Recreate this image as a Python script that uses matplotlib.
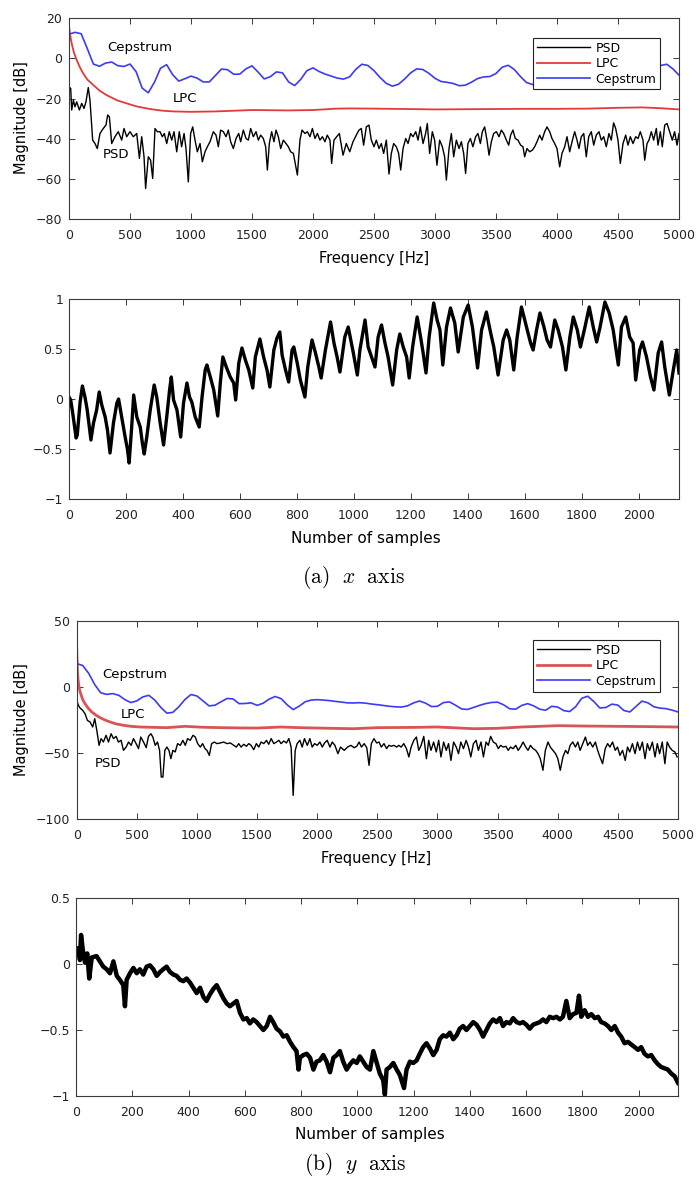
import matplotlib
matplotlib.use("Agg")
import matplotlib.pyplot as plt
from matplotlib.ticker import FuncFormatter

plt.rcParams['mathtext.fontset'] = 'cm'

# ---------------- (a) x axis : spectra ----------------
psd_a_f = [0, 14, 22, 36, 49, 63, 85, 104, 123, 139, 158, 172, 194, 213, 232, 254, 281, 303, 317, 331,
           350, 377, 404, 432, 451, 473, 500, 527, 555, 577, 596, 615, 628, 650, 669, 686, 705, 724, 746, 765,
           781, 801, 822, 842, 861, 883, 904, 923, 943, 959, 978, 997, 1014, 1033, 1052, 1074, 1093, 1115, 1134, 1156,
           1183, 1205, 1224, 1243, 1265, 1287, 1306, 1325, 1347, 1369, 1391, 1407, 1429, 1451, 1470, 1489, 1511, 1533, 1552, 1571,
           1593, 1612, 1626, 1642, 1661, 1680, 1697, 1716, 1735, 1757, 1779, 1798, 1817, 1839, 1872, 1893, 1910, 1934, 1954, 1975,
           1995, 2016, 2036, 2057, 2077, 2098, 2117, 2139, 2153, 2172, 2194, 2216, 2246, 2273, 2301, 2328, 2355, 2377, 2396, 2415,
           2437, 2459, 2478, 2500, 2519, 2541, 2560, 2579, 2601, 2623, 2642, 2661, 2683, 2702, 2719, 2738, 2760, 2779, 2800, 2820,
           2842, 2861, 2880, 2902, 2923, 2937, 2956, 2978, 2997, 3016, 3038, 3060, 3079, 3093, 3115, 3134, 3153, 3175, 3197, 3216,
           3235, 3251, 3270, 3290, 3311, 3333, 3352, 3372, 3388, 3407, 3426, 3443, 3462, 3481, 3503, 3525, 3544, 3563, 3585, 3604,
           3620, 3639, 3658, 3680, 3702, 3721, 3735, 3754, 3776, 3798, 3817, 3836, 3858, 3877, 3899, 3918, 3940, 3959, 3981, 4000,
           4022, 4041, 4063, 4082, 4104, 4123, 4145, 4164, 4180, 4199, 4219, 4240, 4260, 4281, 4301, 4322, 4344, 4363, 4383, 4404,
           4426, 4445, 4464, 4481, 4500, 4519, 4541, 4563, 4582, 4601, 4623, 4645, 4664, 4683, 4705, 4719, 4738, 4754, 4773, 4792,
           4814, 4828, 4847, 4863, 4883, 4902, 4923, 4945, 4964, 4984, 5000]
psd_a_db = [-14.1, -15.0, -25.7, -20.8, -24.1, -21.6, -25.7, -22.4, -24.9, -21.6, -14.5, -20.8, -40.7, -42.4, -44.9, -37.4, -34.9, -33.2, -28.2, -29.1,
            -42.4, -39.0, -36.5, -40.7, -34.9, -39.0, -36.5, -39.0, -37.4, -49.8, -39.0, -49.0, -64.8, -49.0, -50.7, -59.8, -34.9, -36.5, -36.5, -39.0,
            -37.4, -42.4, -36.5, -40.7, -36.5, -46.5, -36.5, -44.0, -37.4, -44.9, -61.5, -37.4, -34.1, -40.7, -46.5, -42.4, -51.5, -46.5, -44.0, -41.5,
            -36.5, -38.2, -44.0, -35.7, -36.5, -39.0, -35.7, -41.5, -44.9, -39.9, -37.4, -41.5, -35.7, -39.9, -40.7, -34.9, -39.0, -36.5, -40.7, -38.2,
            -39.9, -44.0, -55.6, -42.4, -36.5, -41.5, -35.7, -39.0, -44.9, -40.7, -42.4, -44.0, -46.5, -47.3, -58.1, -40.7, -35.7, -37.4, -36.5, -39.0,
            -34.9, -39.9, -37.4, -40.7, -39.0, -41.5, -38.2, -40.7, -52.3, -40.7, -39.0, -37.4, -48.2, -42.4, -46.5, -41.5, -38.2, -35.7, -34.9, -43.2,
            -34.1, -33.2, -40.7, -44.0, -40.7, -44.9, -42.4, -47.3, -40.7, -57.6, -47.3, -42.4, -44.0, -47.3, -55.6, -44.9, -39.9, -42.4, -37.4, -39.0,
            -36.5, -40.7, -34.1, -42.4, -37.4, -32.4, -47.3, -36.5, -40.7, -53.2, -40.7, -44.0, -49.0, -60.6, -44.9, -37.4, -49.0, -40.7, -44.9, -41.5,
            -47.3, -57.3, -42.4, -39.9, -44.0, -39.0, -37.4, -42.4, -36.5, -34.1, -40.7, -48.2, -41.5, -37.4, -36.5, -39.0, -35.7, -37.4, -40.7, -43.2,
            -38.2, -35.7, -39.9, -40.7, -43.2, -44.0, -49.0, -44.9, -46.5, -45.7, -44.0, -41.5, -38.2, -40.7, -36.5, -34.1, -36.5, -39.9, -42.4, -44.9,
            -54.0, -47.3, -44.0, -39.0, -46.5, -41.5, -36.5, -40.7, -44.9, -39.0, -37.4, -49.0, -39.0, -36.5, -43.2, -38.2, -36.5, -40.7, -39.0, -44.0,
            -37.4, -40.7, -32.1, -34.9, -40.7, -52.3, -42.4, -38.2, -43.2, -39.0, -42.4, -39.0, -39.9, -36.5, -40.7, -50.7, -42.4, -40.7, -36.5, -40.7,
            -34.9, -43.2, -36.5, -44.0, -33.2, -32.4, -36.5, -40.7, -36.5, -43.2, -37.4]

lpc_a_f = [0, 10, 22, 40, 63, 90, 117, 150, 200, 250, 309, 400, 473, 560, 664, 760, 855, 1000, 1200, 1500,
           1800, 2000, 2200, 2300, 2500, 2750, 3000, 3250, 3500, 3750, 4000, 4250, 4500, 4700, 4850, 5000]
lpc_a_db = [16.1, 11.5, 7.5, 3.0, -0.8, -4.5, -7.5, -10.5, -13.3, -16.0, -18.3, -21.0, -22.4, -24.0, -25.2, -26.0, -26.4, -26.6, -26.4, -25.7,
            -25.9, -25.7, -25.0, -24.9, -25.0, -25.2, -25.4, -25.3, -25.2, -25.1, -25.1, -25.0, -24.6, -24.4, -24.8, -25.4]

cep_a_f = list(range(0, 5001, 50))
cep_a_db = [12.1, 13.0, 12.3, 4.9, -2.8, -3.9, -2.3, -1.8, -3.6, -4.0, -2.8, -6.6, -14.8, -17.1, -11.9, -4.9, -3.1, -8.1, -11.3, -10.1,
            -8.8, -9.8, -11.7, -11.7, -8.5, -5.3, -5.6, -7.9, -7.8, -5.2, -3.7, -6.8, -10.2, -9.1, -6.7, -7.2, -11.7, -13.5, -10.4, -6.1,
            -4.7, -6.5, -7.8, -8.8, -9.8, -10.3, -9.2, -5.5, -2.9, -3.5, -6.1, -9.5, -12.4, -13.8, -12.9, -10.3, -7.2, -5.2, -5.5, -7.4,
            -9.9, -11.5, -11.9, -12.5, -13.6, -13.3, -11.8, -10.0, -9.2, -9.0, -7.5, -4.4, -3.4, -5.5, -9.0, -12.0, -13.0, -12.5, -10.5, -8.5,
            -8.0, -9.0, -11.0, -12.2, -11.5, -9.5, -7.8, -7.5, -8.8, -10.8, -11.5, -10.8, -9.5, -8.8, -9.0, -8.5, -6.0, -3.5, -2.9, -5.2,
            -8.3]

# ---------------- (a) x axis : time signal ----------------
sig_a_n = [0, 6, 13, 21, 25, 29, 39, 47, 56, 64, 70, 77, 86, 97, 106, 115, 127, 135, 144, 156,
           168, 174, 185, 197, 205, 211, 220, 227, 238, 250, 258, 264, 273, 285, 299, 308, 320, 332, 343, 353,
           359, 367, 379, 392, 402, 414, 423, 431, 443, 457, 467, 478, 484, 496, 508, 522, 531, 540, 552, 566,
           578, 585, 596, 607, 619, 631, 645, 654, 670, 683, 695, 705, 719, 730, 740, 748, 760, 771, 783, 789,
           801, 812, 828, 838, 853, 865, 877, 885, 900, 918, 930, 941, 951, 968, 980, 998, 1012, 1021, 1039, 1050,
           1062, 1074, 1085, 1097, 1109, 1120, 1136, 1150, 1161, 1173, 1185, 1194, 1206, 1222, 1234, 1243, 1253, 1264, 1280, 1292,
           1302, 1312, 1325, 1339, 1354, 1366, 1384, 1401, 1416, 1434, 1448, 1465, 1480, 1491, 1506, 1524, 1536, 1547, 1561, 1573,
           1588, 1606, 1620, 1629, 1641, 1653, 1667, 1678, 1690, 1705, 1717, 1732, 1744, 1758, 1770, 1784, 1795, 1811, 1826, 1840,
           1852, 1864, 1881, 1896, 1910, 1928, 1939, 1954, 1968, 1980, 1989, 2003, 2013, 2027, 2041, 2053, 2068, 2080, 2091, 2107,
           2121, 2133, 2141]
sig_a_v = [0.02, -0.01, -0.14, -0.31, -0.39, -0.36, -0.03, 0.13, 0.02, -0.11, -0.25, -0.41, -0.24, -0.11, 0.07, -0.06, -0.18, -0.31, -0.54, -0.24,
           -0.04, 0.00, -0.18, -0.38, -0.50, -0.64, -0.28, 0.04, -0.18, -0.28, -0.45, -0.55, -0.38, -0.11, 0.14, 0.02, -0.24, -0.46, -0.18, 0.09,
           0.22, -0.01, -0.11, -0.38, -0.04, 0.16, 0.02, -0.03, -0.18, -0.28, 0.02, 0.29, 0.34, 0.22, 0.09, -0.17, 0.16, 0.42, 0.32, 0.22,
           0.16, -0.01, 0.36, 0.51, 0.39, 0.29, 0.11, 0.42, 0.60, 0.42, 0.29, 0.12, 0.49, 0.61, 0.67, 0.44, 0.29, 0.17, 0.49, 0.52,
           0.36, 0.19, 0.02, 0.32, 0.59, 0.46, 0.32, 0.21, 0.49, 0.77, 0.56, 0.42, 0.27, 0.62, 0.72, 0.46, 0.24, 0.49, 0.79, 0.52,
           0.42, 0.32, 0.62, 0.74, 0.56, 0.42, 0.14, 0.49, 0.65, 0.52, 0.42, 0.21, 0.52, 0.82, 0.62, 0.46, 0.26, 0.62, 0.96, 0.79,
           0.69, 0.34, 0.72, 0.91, 0.76, 0.47, 0.82, 0.94, 0.72, 0.31, 0.69, 0.87, 0.66, 0.52, 0.24, 0.59, 0.69, 0.59, 0.29, 0.62,
           0.92, 0.72, 0.56, 0.49, 0.69, 0.86, 0.72, 0.59, 0.52, 0.79, 0.69, 0.52, 0.29, 0.62, 0.82, 0.69, 0.52, 0.72, 0.92, 0.72,
           0.57, 0.72, 0.97, 0.86, 0.69, 0.34, 0.72, 0.82, 0.62, 0.56, 0.19, 0.49, 0.57, 0.42, 0.22, 0.09, 0.46, 0.57, 0.32, 0.04,
           0.29, 0.49, 0.26]

# ---------------- (b) y axis : spectra ----------------
psd_b_f = [0, 14, 28, 50, 69, 89, 111, 133, 150, 167, 186, 203, 222, 244, 264, 286, 306, 328, 347, 369,
           389, 411, 431, 453, 472, 494, 514, 533, 556, 578, 597, 617, 633, 653, 672, 689, 703, 717, 733, 750,
           767, 783, 800, 819, 839, 861, 883, 903, 922, 944, 967, 986, 1006, 1028, 1047, 1067, 1083, 1103, 1122, 1144,
           1167, 1194, 1222, 1250, 1278, 1306, 1328, 1347, 1367, 1389, 1411, 1431, 1450, 1472, 1494, 1514, 1533, 1556, 1578, 1597,
           1617, 1639, 1661, 1681, 1700, 1722, 1744, 1764, 1783, 1800, 1817, 1833, 1856, 1875, 1894, 1917, 1939, 1958, 1978, 2000,
           2022, 2042, 2061, 2083, 2106, 2125, 2147, 2172, 2194, 2225, 2252, 2280, 2307, 2329, 2348, 2368, 2390, 2412, 2431, 2450,
           2472, 2494, 2514, 2533, 2555, 2577, 2596, 2616, 2638, 2660, 2679, 2698, 2720, 2742, 2762, 2781, 2803, 2825, 2844, 2864,
           2886, 2908, 2927, 2946, 2968, 2990, 3010, 3029, 3051, 3073, 3092, 3112, 3134, 3156, 3175, 3194, 3216, 3238, 3258, 3277,
           3299, 3321, 3340, 3362, 3382, 3404, 3423, 3442, 3464, 3486, 3506, 3525, 3547, 3569, 3588, 3607, 3629, 3651, 3671, 3690,
           3712, 3734, 3753, 3773, 3795, 3817, 3836, 3855, 3877, 3897, 3919, 3938, 3960, 3982, 4001, 4021, 4043, 4065, 4084, 4103,
           4125, 4147, 4167, 4186, 4208, 4230, 4249, 4269, 4291, 4313, 4332, 4351, 4373, 4395, 4415, 4434, 4456, 4478, 4497, 4517,
           4539, 4561, 4580, 4599, 4621, 4643, 4663, 4682, 4704, 4726, 4745, 4764, 4787, 4809, 4828, 4847, 4869, 4891, 4910, 4930,
           4952, 4974, 4993]
psd_b_db = [-10.1, -13.9, -15.9, -17.7, -20.2, -25.3, -26.5, -30.3, -24.0, -32.8, -44.2, -39.1, -41.7, -36.6, -41.7, -35.4, -39.1, -37.4, -41.7, -40.4,
            -48.0, -45.5, -41.7, -44.2, -39.1, -42.9, -46.7, -37.9, -41.7, -46.0, -37.4, -35.4, -37.9, -44.2, -41.7, -48.0, -68.2, -68.2, -48.0, -45.5,
            -48.0, -54.3, -48.0, -49.2, -42.9, -44.2, -40.4, -44.2, -39.1, -40.4, -36.6, -37.9, -42.9, -45.5, -42.9, -46.7, -48.0, -51.8, -42.9, -41.7,
            -42.9, -42.4, -41.7, -42.9, -42.4, -44.2, -45.5, -42.9, -45.5, -43.4, -44.9, -42.9, -44.2, -47.5, -42.9, -45.5, -41.7, -42.9, -40.4, -43.4,
            -39.1, -42.9, -41.7, -40.4, -42.9, -40.9, -42.4, -39.1, -45.5, -82.1, -48.0, -42.9, -40.4, -45.5, -39.1, -44.2, -39.1, -45.5, -42.9, -44.2,
            -41.7, -45.5, -42.4, -40.4, -45.5, -41.7, -44.2, -50.5, -45.5, -48.0, -45.5, -44.2, -46.0, -44.9, -41.7, -45.5, -42.9, -46.0, -59.3, -42.9,
            -39.1, -42.4, -41.7, -45.5, -42.9, -46.7, -44.2, -44.9, -44.2, -45.5, -44.2, -45.5, -42.9, -46.7, -53.0, -45.5, -40.4, -37.9, -48.0, -44.2,
            -37.4, -54.3, -40.4, -48.0, -41.7, -49.2, -40.4, -53.0, -41.7, -48.0, -42.9, -55.6, -41.7, -45.5, -50.5, -41.7, -46.7, -40.4, -45.5, -53.0,
            -42.9, -40.4, -48.0, -41.7, -53.0, -41.7, -44.2, -37.4, -41.7, -42.9, -46.7, -44.2, -45.5, -44.9, -48.0, -45.5, -46.7, -44.2, -48.0, -45.5,
            -41.7, -45.5, -48.0, -44.2, -46.7, -48.0, -50.5, -54.3, -63.1, -48.0, -41.7, -45.5, -48.0, -50.5, -54.3, -63.1, -53.0, -48.0, -50.5, -44.2,
            -41.7, -45.5, -41.7, -48.0, -42.9, -37.9, -44.2, -41.7, -45.5, -41.7, -48.0, -53.0, -58.1, -46.7, -42.9, -45.5, -41.7, -48.0, -45.5, -51.8,
            -48.0, -55.6, -45.5, -49.2, -42.9, -50.5, -41.7, -48.0, -41.7, -54.3, -42.9, -48.0, -41.7, -53.0, -42.9, -50.5, -41.7, -58.1, -41.7, -45.5,
            -48.0, -49.2, -53.0]

lpc_b_f = [0, 3, 6, 10, 17, 25, 33, 50, 69, 95, 125, 160, 194, 235, 278, 330, 389, 450, 528, 650,
           750, 900, 1050, 1200, 1350, 1500, 1700, 1850, 2000, 2300, 2500, 2800, 3000, 3300, 3500, 3700, 4000, 4250, 4500, 4750,
           5000]
lpc_b_db = [29.0, 20.0, 12.6, 7.0, 1.3, -2.5, -5.0, -9.5, -12.6, -16.0, -18.9, -21.3, -23.2, -25.0, -26.5, -28.0, -29.0, -29.8, -30.3, -30.6,
            -30.8, -29.8, -30.5, -30.8, -31.0, -31.1, -30.3, -30.8, -31.1, -31.6, -30.8, -30.6, -30.3, -31.6, -31.3, -30.3, -29.3, -29.6, -29.8, -30.0,
            -30.3]

cep_b_f = list(range(0, 5001, 50))
cep_b_db = [17.7, 16.3, 10.3, 1.8, -4.4, -5.6, -5.0, -6.3, -9.5, -11.8, -10.5, -7.5, -6.3, -10.0, -15.5, -19.8, -19.2, -14.9, -9.5, -5.7,
            -6.8, -10.5, -14.3, -13.8, -11.2, -8.7, -9.0, -12.6, -12.5, -12.0, -13.9, -12.3, -9.2, -7.2, -8.8, -13.5, -17.1, -14.5, -11.2, -9.9,
            -9.6, -9.9, -10.3, -10.9, -11.4, -12.0, -12.1, -11.9, -12.2, -12.9, -13.4, -14.0, -14.6, -15.0, -15.2, -14.3, -12.1, -10.6, -12.2, -14.8,
            -14.6, -11.8, -11.3, -13.8, -16.6, -17.0, -15.5, -13.9, -12.6, -11.7, -11.5, -13.5, -16.5, -16.8, -14.0, -12.6, -14.3, -16.8, -17.6, -14.6,
            -15.2, -17.9, -18.6, -14.8, -8.5, -7.0, -11.0, -15.9, -15.5, -13.0, -13.7, -17.8, -18.9, -14.8, -10.7, -12.0, -15.0, -16.0, -16.4, -17.5,
            -18.9]

# ---------------- (b) y axis : time signal ----------------
sig_b_n = [0, 8, 14, 18, 24, 32, 40, 47, 56, 73, 85, 97, 109, 121, 133, 145, 156, 168, 174, 180,
           192, 204, 216, 227, 239, 251, 263, 275, 287, 299, 310, 322, 334, 346, 358, 370, 382, 393, 405, 417,
           429, 441, 453, 464, 476, 488, 500, 512, 524, 536, 547, 559, 571, 583, 595, 607, 618, 630, 642, 654,
           666, 678, 690, 701, 713, 725, 737, 749, 761, 773, 784, 791, 796, 808, 820, 832, 844, 855, 867, 879,
           891, 903, 915, 927, 938, 950, 962, 974, 986, 998, 1009, 1021, 1033, 1045, 1057, 1069, 1080, 1092, 1098, 1104,
           1116, 1128, 1140, 1151, 1166, 1175, 1187, 1199, 1211, 1222, 1234, 1246, 1258, 1270, 1282, 1293, 1305, 1317, 1329, 1341,
           1353, 1364, 1376, 1388, 1400, 1412, 1424, 1436, 1447, 1459, 1471, 1483, 1495, 1507, 1518, 1530, 1542, 1554, 1566, 1578,
           1589, 1601, 1613, 1625, 1637, 1649, 1660, 1672, 1684, 1696, 1708, 1720, 1731, 1743, 1755, 1767, 1779, 1788, 1796, 1808,
           1820, 1832, 1844, 1856, 1867, 1879, 1891, 1903, 1915, 1927, 1938, 1950, 1962, 1974, 1986, 1998, 2009, 2021, 2033, 2045,
           2057, 2069, 2080, 2092, 2104, 2116, 2128, 2140]
sig_b_v = [0.08, 0.12, 0.03, 0.22, 0.11, 0.01, 0.08, -0.11, 0.05, 0.06, 0.02, -0.02, -0.04, -0.07, 0.02, -0.09, -0.12, -0.16, -0.32, -0.12,
           -0.07, -0.03, -0.07, -0.04, -0.08, -0.02, -0.01, -0.04, -0.09, -0.06, -0.04, -0.02, -0.06, -0.08, -0.09, -0.12, -0.13, -0.11, -0.14, -0.18,
           -0.22, -0.18, -0.25, -0.28, -0.23, -0.19, -0.16, -0.21, -0.26, -0.30, -0.32, -0.30, -0.28, -0.37, -0.42, -0.41, -0.45, -0.42, -0.44, -0.47,
           -0.50, -0.47, -0.40, -0.44, -0.49, -0.51, -0.55, -0.54, -0.59, -0.63, -0.66, -0.80, -0.71, -0.69, -0.68, -0.71, -0.80, -0.74, -0.73, -0.69,
           -0.74, -0.82, -0.71, -0.69, -0.66, -0.74, -0.80, -0.76, -0.73, -0.75, -0.70, -0.74, -0.78, -0.80, -0.66, -0.75, -0.83, -0.88, -0.99, -0.80,
           -0.78, -0.75, -0.80, -0.84, -0.94, -0.80, -0.74, -0.75, -0.73, -0.68, -0.63, -0.60, -0.64, -0.69, -0.65, -0.57, -0.54, -0.55, -0.52, -0.57,
           -0.54, -0.49, -0.47, -0.50, -0.47, -0.44, -0.46, -0.50, -0.55, -0.50, -0.45, -0.42, -0.44, -0.41, -0.47, -0.44, -0.45, -0.41, -0.44, -0.45,
           -0.44, -0.46, -0.49, -0.46, -0.45, -0.44, -0.42, -0.44, -0.40, -0.41, -0.40, -0.42, -0.40, -0.28, -0.41, -0.38, -0.37, -0.24, -0.40, -0.35,
           -0.40, -0.38, -0.41, -0.40, -0.44, -0.45, -0.47, -0.50, -0.47, -0.52, -0.55, -0.60, -0.59, -0.61, -0.63, -0.65, -0.63, -0.68, -0.70, -0.69,
           -0.73, -0.76, -0.78, -0.79, -0.80, -0.83, -0.85, -0.90]

FIG_W, FIG_H = 697, 1187
BLUE = '#3b3bf5'
RED = '#e23a3a'
FRAME = '#3a3a3a'


def minus(v, pos):
    return ('%g' % v).replace('-', '\u2212')


def frame(ax, xpad, ypad):
    for s in ax.spines.values():
        s.set_color(FRAME)
        s.set_linewidth(0.8)
    ax.tick_params(direction='in', top=True, right=True, length=4, width=0.7,
                   colors=FRAME, labelcolor='#222222', labelsize=9)
    ax.tick_params(axis='x', pad=xpad)
    ax.tick_params(axis='y', pad=ypad)
    ax.yaxis.set_major_formatter(FuncFormatter(minus))


def box(px_left, px_top, px_right, px_bottom):
    return [px_left / FIG_W, 1 - px_bottom / FIG_H,
            (px_right - px_left) / FIG_W, (px_bottom - px_top) / FIG_H]


fig = plt.figure(figsize=(FIG_W / 100, FIG_H / 100), dpi=100)

# ---- spectra (a)
ax1 = fig.add_axes(box(69, 18.3, 679, 219))
ax1.plot(psd_a_f, psd_a_db, color='k', lw=1.0, label='PSD')
ax1.plot(lpc_a_f, lpc_a_db, color=RED, lw=1.3, label='LPC')
ax1.plot(cep_a_f, cep_a_db, color=BLUE, lw=1.2, label='Cepstrum')
ax1.set_xlim(0, 5000)
ax1.set_ylim(-80, 20)
ax1.set_xticks(range(0, 5001, 500))
ax1.set_yticks(range(-80, 21, 20))
frame(ax1, 7, 5)
ax1.text(311, 5.3, 'Cepstrum', fontsize=9.5, va='center')
ax1.text(852, -20.1, 'LPC', fontsize=9.5, va='center')
ax1.text(279, -48.1, 'PSD', fontsize=9.5, va='center')
leg = ax1.legend(loc='upper right', bbox_to_anchor=(0.969, 0.902), borderaxespad=0,
                 fontsize=9, handlelength=4.3, handletextpad=0.4, labelspacing=0.2,
                 borderpad=0.3, fancybox=False, framealpha=1, edgecolor='#222222')
leg.get_frame().set_linewidth(0.8)

# ---- time signal (a)
ax2 = fig.add_axes(box(69, 299, 679, 499))
ax2.plot(sig_a_n, sig_a_v, color='k', lw=2.4)
ax2.set_xlim(0, 2141)
ax2.set_ylim(-1, 1)
ax2.set_xticks(range(0, 2001, 200))
ax2.set_yticks([-1, -0.5, 0, 0.5, 1])
frame(ax2, 7, 4)

# ---- spectra (b)
ax3 = fig.add_axes(box(76.7, 621, 678, 819))
ax3.plot(psd_b_f, psd_b_db, color='k', lw=1.0, label='PSD')
ax3.plot(lpc_b_f, lpc_b_db, color='#d95454', lw=2.0, label='LPC')
ax3.plot(cep_b_f, cep_b_db, color=BLUE, lw=1.2, label='Cepstrum')
ax3.set_xlim(0, 5000)
ax3.set_ylim(-100, 50)
ax3.set_xticks(range(0, 5001, 500))
ax3.set_yticks(range(-100, 51, 50))
frame(ax3, 7, 5)
ax3.text(211, 9.3, 'Cepstrum', fontsize=9.5, va='center')
ax3.text(369, -21.0, 'LPC', fontsize=9.5, va='center')
ax3.text(153, -57.6, 'PSD', fontsize=9.5, va='center')
leg = ax3.legend(loc='upper right', bbox_to_anchor=(0.970, 0.904), borderaxespad=0,
                 fontsize=9, handlelength=4.3, handletextpad=0.4, labelspacing=0.2,
                 borderpad=0.3, fancybox=False, framealpha=1, edgecolor='#222222')
leg.get_frame().set_linewidth(0.8)

# ---- time signal (b)
ax4 = fig.add_axes(box(76, 898, 678, 1096))
ax4.plot(sig_b_n, sig_b_v, color='k', lw=3.2)
ax4.set_xlim(0, 2140)
ax4.set_ylim(-1, 0.5)
ax4.set_xticks(range(0, 2001, 200))
ax4.set_yticks([-1, -0.5, 0, 0.5])
frame(ax4, 7, 4)

# ---- axis labels and captions (pixel positions)
def ftext(px, py, s, **kw):
    fig.text(px / FIG_W, 1 - py / FIG_H, s, **kw)

ftext(374, 258, 'Frequency [Hz]', fontsize=10.5, ha='center', va='center')
ftext(22, 118, 'Magnitude [dB]', fontsize=10.5, ha='center', va='center', rotation=90)
ftext(366, 539, 'Number of samples', fontsize=11, ha='center', va='center')
ftext(376, 858, 'Frequency [Hz]', fontsize=10.5, ha='center', va='center')
ftext(22, 720, 'Magnitude [dB]', fontsize=10.5, ha='center', va='center', rotation=90)
ftext(370, 1134, 'Number of samples', fontsize=11, ha='center', va='center')
ftext(353, 578, r'$\mathrm{(a)}\ \ x\ \ \mathrm{axis}$', fontsize=15.5, ha='center', va='center')
ftext(355, 1165, r'$\mathrm{(b)}\ \ y\ \ \mathrm{axis}$', fontsize=15.5, ha='center', va='center')

fig.savefig('out.png', dpi=100)
